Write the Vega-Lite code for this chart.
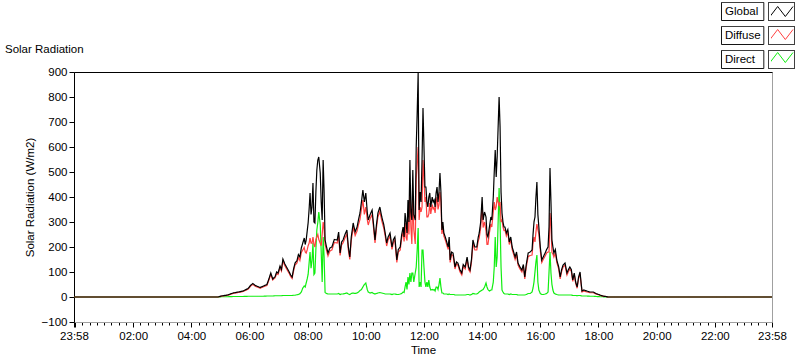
{
  "$schema": "https://vega.github.io/schema/vega-lite/v6.json",
  "autosize": "none",
  "width": 698,
  "height": 250,
  "padding": {"left": 74, "top": 72, "right": 28, "bottom": 39},
  "background": "white",
  "title": {"text": "Solar Radiation", "anchor": "start", "frame": "group", "dx": -69, "offset": -54, "fontSize": 11.5, "fontWeight": "normal", "font": "Liberation Sans", "color": "black"},
  "config": {
    "font": "Liberation Sans",
    "view": {"stroke": "#a0a0a0"},
    "axis": {"labelFont": "Liberation Sans", "labelFontSize": 11.5, "labelColor": "black", "titleFont": "Liberation Sans", "titleFontSize": 11.5, "titleFontWeight": "normal", "titleColor": "black", "tickColor": "black"},
    "legend": {"labelFont": "Liberation Sans", "labelFontSize": 11.5, "labelColor": "black"}
  },
  "data": {"values": [
    {"m":-2,"g":0,"d":0,"r":0},{"m":295,"g":0,"d":0,"r":0},{"m":302,"g":4,"d":3,"r":1},{"m":315,"g":8,"d":7,"r":1},{"m":326,"g":16,"d":14,"r":2},{"m":337,"g":20,"d":18,"r":2},{"m":347,"g":24,"d":22,"r":2},{"m":357,"g":34,"d":31,"r":3},{"m":363,"g":48,"d":45,"r":3},{"m":367,"g":54,"d":50,"r":3},{"m":372,"g":46,"d":43,"r":3},{"m":377,"g":42,"d":39,"r":3},{"m":382,"g":38,"d":35,"r":3},{"m":389,"g":44,"d":41,"r":3},{"m":396,"g":50,"d":46,"r":4},{"m":400,"g":72,"d":67,"r":4},{"m":404,"g":96,"d":90,"r":4},{"m":408,"g":72,"d":68,"r":4},{"m":413,"g":82,"d":77,"r":5},{"m":416,"g":100,"d":94,"r":5},{"m":419,"g":96,"d":90,"r":5},{"m":423,"g":124,"d":117,"r":5},{"m":426,"g":110,"d":104,"r":5},{"m":429,"g":152,"d":144,"r":6},{"m":433,"g":132,"d":125,"r":6},{"m":437,"g":118,"d":111,"r":6},{"m":442,"g":100,"d":94,"r":6},{"m":445,"g":88,"d":82,"r":6},{"m":448,"g":80,"d":74,"r":6},{"m":451,"g":112,"d":104,"r":7},{"m":454,"g":136,"d":128,"r":7},{"m":458,"g":146,"d":136,"r":9},{"m":461,"g":170,"d":158,"r":10},{"m":464,"g":160,"d":146,"r":13},{"m":467,"g":196,"d":178,"r":20},{"m":470,"g":216,"d":188,"r":36},{"m":473,"g":236,"d":198,"r":44},{"m":475,"g":210,"d":180,"r":40},{"m":477,"g":228,"d":176,"r":56},{"m":479,"g":262,"d":188,"r":72},{"m":481,"g":296,"d":205,"r":90},{"m":483,"g":350,"d":215,"r":135},{"m":485,"g":416,"d":236,"r":180},{"m":487,"g":330,"d":215,"r":115},{"m":489,"g":360,"d":215,"r":145},{"m":491,"g":456,"d":240,"r":216},{"m":493,"g":300,"d":210,"r":90},{"m":495,"g":296,"d":200,"r":96},{"m":497,"g":420,"d":230,"r":190},{"m":499,"g":508,"d":240,"r":268},{"m":501,"g":548,"d":250,"r":298},{"m":503,"g":560,"d":230,"r":340},{"m":506,"g":496,"d":215,"r":290},{"m":508,"g":380,"d":205,"r":180},{"m":510,"g":308,"d":250,"r":60},{"m":512,"g":548,"d":300,"r":240},{"m":514,"g":420,"d":270,"r":160},{"m":516,"g":228,"d":210,"r":18},{"m":519,"g":200,"d":186,"r":14},{"m":522,"g":176,"d":164,"r":12},{"m":526,"g":196,"d":184,"r":12},{"m":530,"g":200,"d":188,"r":12},{"m":535,"g":230,"d":218,"r":12},{"m":541,"g":228,"d":216,"r":12},{"m":544,"g":260,"d":246,"r":14},{"m":547,"g":176,"d":166,"r":10},{"m":550,"g":220,"d":208,"r":12},{"m":553,"g":228,"d":216,"r":12},{"m":557,"g":250,"d":236,"r":14},{"m":561,"g":268,"d":252,"r":16},{"m":564,"g":200,"d":188,"r":12},{"m":567,"g":160,"d":150,"r":10},{"m":570,"g":240,"d":226,"r":14},{"m":574,"g":296,"d":280,"r":16},{"m":578,"g":260,"d":246,"r":14},{"m":582,"g":280,"d":264,"r":16},{"m":585,"g":310,"d":290,"r":20},{"m":588,"g":336,"d":310,"r":26},{"m":591,"g":380,"d":350,"r":30},{"m":594,"g":428,"d":388,"r":40},{"m":597,"g":380,"d":330,"r":50},{"m":600,"g":416,"d":360,"r":56},{"m":603,"g":340,"d":310,"r":30},{"m":605,"g":308,"d":288,"r":20},{"m":609,"g":330,"d":314,"r":16},{"m":613,"g":348,"d":330,"r":18},{"m":616,"g":290,"d":276,"r":14},{"m":619,"g":228,"d":216,"r":12},{"m":622,"g":290,"d":276,"r":14},{"m":625,"g":336,"d":320,"r":16},{"m":629,"g":360,"d":342,"r":18},{"m":633,"g":320,"d":304,"r":16},{"m":637,"g":290,"d":276,"r":14},{"m":640,"g":256,"d":244,"r":12},{"m":643,"g":216,"d":204,"r":12},{"m":646,"g":240,"d":228,"r":12},{"m":650,"g":256,"d":244,"r":12},{"m":654,"g":200,"d":190,"r":10},{"m":657,"g":230,"d":218,"r":12},{"m":660,"g":240,"d":228,"r":12},{"m":664,"g":148,"d":138,"r":10},{"m":667,"g":190,"d":180,"r":10},{"m":671,"g":200,"d":188,"r":12},{"m":674,"g":250,"d":236,"r":14},{"m":677,"g":280,"d":260,"r":20},{"m":679,"g":240,"d":222,"r":18},{"m":681,"g":336,"d":296,"r":40},{"m":683,"g":300,"d":240,"r":60},{"m":685,"g":256,"d":226,"r":30},{"m":687,"g":388,"d":308,"r":80},{"m":689,"g":300,"d":250,"r":50},{"m":691,"g":548,"d":440,"r":96},{"m":693,"g":340,"d":280,"r":60},{"m":695,"g":308,"d":212,"r":96},{"m":697,"g":508,"d":410,"r":96},{"m":699,"g":330,"d":270,"r":60},{"m":702,"g":308,"d":212,"r":96},{"m":704,"g":600,"d":470,"r":120},{"m":706,"g":736,"d":540,"r":188},{"m":708,"g":896,"d":600,"r":276},{"m":710,"g":348,"d":308,"r":40},{"m":712,"g":420,"d":360,"r":60},{"m":714,"g":380,"d":340,"r":40},{"m":716,"g":548,"d":360,"r":188},{"m":718,"g":756,"d":548,"r":188},{"m":720,"g":600,"d":480,"r":120},{"m":722,"g":440,"d":380,"r":60},{"m":724,"g":440,"d":400,"r":40},{"m":726,"g":380,"d":320,"r":60},{"m":728,"g":360,"d":320,"r":40},{"m":730,"g":400,"d":332,"r":68},{"m":732,"g":416,"d":376,"r":40},{"m":734,"g":360,"d":332,"r":28},{"m":737,"g":400,"d":370,"r":30},{"m":739,"g":380,"d":352,"r":28},{"m":741,"g":388,"d":358,"r":30},{"m":743,"g":360,"d":336,"r":24},{"m":745,"g":416,"d":376,"r":40},{"m":747,"g":440,"d":400,"r":40},{"m":749,"g":380,"d":350,"r":30},{"m":751,"g":420,"d":370,"r":50},{"m":753,"g":496,"d":420,"r":76},{"m":755,"g":420,"d":380,"r":40},{"m":757,"g":268,"d":252,"r":16},{"m":759,"g":300,"d":284,"r":16},{"m":761,"g":256,"d":244,"r":12},{"m":764,"g":240,"d":228,"r":12},{"m":767,"g":220,"d":208,"r":12},{"m":770,"g":200,"d":190,"r":10},{"m":772,"g":240,"d":228,"r":12},{"m":774,"g":148,"d":138,"r":10},{"m":777,"g":180,"d":170,"r":10},{"m":780,"g":176,"d":166,"r":10},{"m":782,"g":150,"d":140,"r":10},{"m":784,"g":120,"d":112,"r":8},{"m":787,"g":140,"d":132,"r":8},{"m":790,"g":136,"d":128,"r":8},{"m":794,"g":110,"d":102,"r":8},{"m":798,"g":96,"d":88,"r":8},{"m":801,"g":130,"d":122,"r":8},{"m":805,"g":120,"d":112,"r":8},{"m":809,"g":160,"d":150,"r":10},{"m":812,"g":120,"d":110,"r":10},{"m":815,"g":108,"d":100,"r":8},{"m":818,"g":150,"d":140,"r":10},{"m":821,"g":228,"d":214,"r":14},{"m":825,"g":200,"d":188,"r":12},{"m":829,"g":200,"d":188,"r":12},{"m":832,"g":240,"d":224,"r":16},{"m":834,"g":256,"d":236,"r":20},{"m":837,"g":300,"d":276,"r":24},{"m":840,"g":400,"d":372,"r":28},{"m":842,"g":308,"d":278,"r":30},{"m":845,"g":340,"d":300,"r":40},{"m":848,"g":320,"d":264,"r":56},{"m":850,"g":250,"d":210,"r":40},{"m":852,"g":240,"d":210,"r":30},{"m":855,"g":280,"d":256,"r":24},{"m":858,"g":320,"d":292,"r":28},{"m":860,"g":308,"d":280,"r":28},{"m":863,"g":400,"d":340,"r":60},{"m":865,"g":500,"d":380,"r":120},{"m":867,"g":588,"d":348,"r":240},{"m":869,"g":480,"d":360,"r":120},{"m":871,"g":560,"d":400,"r":160},{"m":873,"g":680,"d":380,"r":300},{"m":875,"g":800,"d":364,"r":436},{"m":877,"g":680,"d":380,"r":300},{"m":879,"g":420,"d":300,"r":120},{"m":881,"g":336,"d":308,"r":28},{"m":883,"g":300,"d":280,"r":20},{"m":885,"g":280,"d":266,"r":14},{"m":887,"g":280,"d":268,"r":12},{"m":890,"g":256,"d":244,"r":12},{"m":893,"g":270,"d":258,"r":12},{"m":896,"g":220,"d":210,"r":10},{"m":899,"g":240,"d":228,"r":12},{"m":902,"g":200,"d":190,"r":10},{"m":905,"g":180,"d":170,"r":10},{"m":908,"g":160,"d":150,"r":10},{"m":911,"g":180,"d":170,"r":10},{"m":914,"g":136,"d":128,"r":8},{"m":918,"g":120,"d":112,"r":8},{"m":922,"g":108,"d":100,"r":8},{"m":925,"g":130,"d":122,"r":8},{"m":928,"g":80,"d":72,"r":8},{"m":931,"g":130,"d":120,"r":10},{"m":935,"g":176,"d":162,"r":14},{"m":939,"g":180,"d":166,"r":14},{"m":943,"g":188,"d":168,"r":20},{"m":945,"g":250,"d":214,"r":36},{"m":947,"g":300,"d":240,"r":60},{"m":949,"g":320,"d":220,"r":100},{"m":951,"g":400,"d":260,"r":140},{"m":953,"g":460,"d":292,"r":168},{"m":955,"g":330,"d":270,"r":60},{"m":957,"g":280,"d":252,"r":28},{"m":960,"g":200,"d":186,"r":14},{"m":963,"g":148,"d":138,"r":10},{"m":966,"g":160,"d":150,"r":10},{"m":970,"g":176,"d":164,"r":12},{"m":973,"g":190,"d":176,"r":14},{"m":976,"g":200,"d":180,"r":20},{"m":978,"g":280,"d":180,"r":100},{"m":980,"g":516,"d":336,"r":180},{"m":982,"g":380,"d":284,"r":96},{"m":984,"g":228,"d":178,"r":50},{"m":986,"g":200,"d":172,"r":28},{"m":988,"g":176,"d":160,"r":16},{"m":991,"g":190,"d":178,"r":12},{"m":994,"g":148,"d":138,"r":10},{"m":998,"g":120,"d":112,"r":8},{"m":1001,"g":80,"d":72,"r":8},{"m":1004,"g":110,"d":102,"r":8},{"m":1007,"g":128,"d":120,"r":8},{"m":1011,"g":136,"d":128,"r":8},{"m":1015,"g":96,"d":88,"r":8},{"m":1018,"g":110,"d":102,"r":8},{"m":1021,"g":120,"d":112,"r":8},{"m":1024,"g":110,"d":102,"r":8},{"m":1027,"g":68,"d":62,"r":6},{"m":1030,"g":96,"d":90,"r":6},{"m":1033,"g":60,"d":54,"r":6},{"m":1036,"g":40,"d":35,"r":5},{"m":1039,"g":80,"d":74,"r":6},{"m":1042,"g":100,"d":94,"r":6},{"m":1044,"g":60,"d":55,"r":5},{"m":1046,"g":24,"d":20,"r":4},{"m":1050,"g":28,"d":24,"r":4},{"m":1056,"g":24,"d":20,"r":4},{"m":1062,"g":20,"d":17,"r":3},{"m":1069,"g":20,"d":17,"r":3},{"m":1075,"g":14,"d":12,"r":2},{"m":1083,"g":8,"d":7,"r":1},{"m":1089,"g":4,"d":3,"r":1},{"m":1095,"g":2,"d":2,"r":0},{"m":1100,"g":0,"d":0,"r":0},{"m":1438,"g":0,"d":0,"r":0}
  ]},
  "encoding": {
    "x": {
      "field": "m", "type": "quantitative",
      "scale": {"domain": [-2, 1438], "nice": false, "zero": false},
      "axis": {
        "title": "Time",
        "values": [-2,0,15,30,45,60,75,90,105,120,135,150,165,180,195,210,225,240,255,270,285,300,315,330,345,360,375,390,405,420,435,450,465,480,495,510,525,540,555,570,585,600,615,630,645,660,675,690,705,720,735,750,765,780,795,810,825,840,855,870,885,900,915,930,945,960,975,990,1005,1020,1035,1050,1065,1080,1095,1110,1125,1140,1155,1170,1185,1200,1215,1230,1245,1260,1275,1290,1305,1320,1335,1350,1365,1380,1395,1410,1425,1438],
        "labelExpr": "datum.value == -2 || datum.value == 1438 ? '23:58' : (datum.value % 120 == 0 && datum.value > 0 ? (datum.value < 600 ? '0' : '') + (datum.value / 60) + ':00' : '')",
        "labelOverlap": false,
        "labelFlush": false,
        "tickSize": {"condition": {"test": "datum.value % 120 == 0 || datum.value == -2 || datum.value == 1438", "value": 5}, "value": 3},
        "labelPadding": 3,
        "titlePadding": 3,
        "domainColor": "#a0a0a0",
        "grid": false
      }
    },
    "y": {
      "type": "quantitative",
      "scale": {"domain": [-100, 900], "nice": false, "zero": false},
      "axis": {
        "title": "Solar Radiation (W/m2)",
        "values": [-100,0,100,200,300,400,500,600,700,800,900],
        "tickSize": 5,
        "labelPadding": 2,
        "titlePadding": 6,
        "domainColor": "black",
        "grid": true,
        "gridColor": "black",
        "gridOpacity": {"condition": {"test": "datum.value == 900", "value": 1}, "value": 0}
      }
    }
  },
  "layer": [
    {
      "mark": {"type": "line", "strokeWidth": 1.2},
      "encoding": {
        "y": {"field": "r"},
        "color": {"datum": "Direct"},
        "strokeDash": {"datum": "Direct"}
      }
    },
    {
      "mark": {"type": "line", "strokeWidth": 1.2},
      "encoding": {
        "y": {"field": "d"},
        "color": {"datum": "Diffuse"},
        "strokeDash": {"datum": "Diffuse"}
      }
    },
    {
      "mark": {"type": "line", "strokeWidth": 1.2},
      "encoding": {
        "y": {"field": "g"},
        "color": {
          "datum": "Global",
          "scale": {"domain": ["Global", "Diffuse", "Direct"], "range": ["#000000", "#ff4040", "#10ee10"]},
          "legend": {"orient": "none", "legendX": 697, "legendY": -71, "direction": "vertical", "title": null, "padding": 0, "rowPadding": 2, "clipHeight": 21, "symbolType": "M-1.15,0.5L-0.383,-0.5L0.383,0.5L1.15,-0.5", "symbolSize": 400, "symbolStrokeWidth": 1, "symbolFillColor": "transparent", "labelExpr": "''"}
        },
        "strokeDash": {
          "datum": "Global",
          "scale": {"domain": ["Global", "Diffuse", "Direct", "-"], "range": [[1,0],[1,0],[1,0],[1,0]]},
          "legend": {"orient": "none", "legendX": 675, "legendY": -71, "direction": "vertical", "title": null, "padding": 0, "rowPadding": 1, "values": ["Global", "Diffuse", "Direct"], "symbolType": "M-3.8,-0.9H0.43V0.9H-3.8Z M0.9,-0.9H3.5V0.9H0.9Z", "symbolSize": 400, "symbolStrokeColor": "black", "symbolStrokeWidth": 1, "symbolFillColor": "transparent", "labelOffset": -45,
            "encode": {"symbols": {"update": {"stroke": {"value": "black"}, "fill": {"value": "transparent"}, "strokeDash": {"value": [1, 0]}}}}}
        }
      }
    }
  ]
}
